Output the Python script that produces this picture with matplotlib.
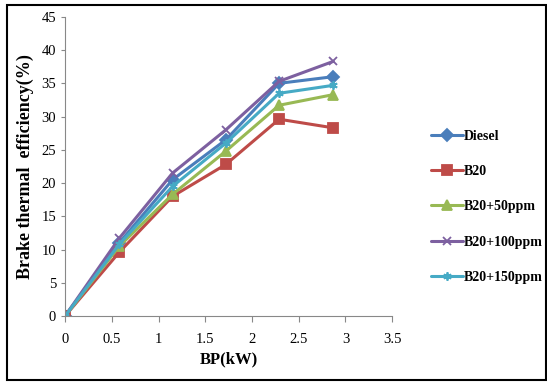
import matplotlib
matplotlib.use('Agg')
import matplotlib.pyplot as plt
from matplotlib.patches import Rectangle

# BP (kW) and brake thermal efficiency (%)
bp = [0, 0.58, 1.15, 1.72, 2.29, 2.87]
diesel = [0, 11.0, 20.5, 26.5, 35.0, 36.0]
b20 = [0, 9.6, 18.0, 22.8, 29.6, 28.3]
b20_50 = [0, 10.5, 18.3, 24.8, 31.7, 33.3]
b20_100 = [0, 11.7, 21.5, 28.0, 35.3, 38.3]
b20_150 = [0, 10.8, 19.5, 26.0, 33.5, 34.7]

labels = ['Diesel', 'B20', 'B20+50ppm', 'B20+100ppm', 'B20+150ppm']
colors = ['#4a7ebb', '#be4b48', '#98b954', '#7d60a0', '#46aac5']
markers = ['D', 's', '^', 'x', (6, 2, 0)]

plt.rcParams['font.family'] = ['Liberation Serif', 'DejaVu Serif']

fig = plt.figure(figsize=(5.47, 3.83), dpi=100)
ax = fig.add_axes([0.119, 0.175, 0.598, 0.781])

series = [diesel, b20, b20_50, b20_100, b20_150]
for ys, lab, c, m in zip(series, labels, colors, markers):
    ms = 7 if m in ('s', '^') else 6
    ax.plot(bp, ys, color=c, lw=2.2, marker=m, ms=ms, mew=1.3,
            label=lab, solid_capstyle='round')

ax.set_xlim(0, 3.5)
ax.set_ylim(0, 45)
ax.set_xticks([0, 0.5, 1, 1.5, 2, 2.5, 3, 3.5])
ax.set_xticklabels(['0', '0.5', '1', '1.5', '2', '2.5', '3', '3.5'])
ax.set_yticks(range(0, 50, 5))
for s in ['top', 'right']:
    ax.spines[s].set_visible(False)
for s in ['left', 'bottom']:
    ax.spines[s].set_color('#888888')
ax.tick_params(axis='both', labelsize=10.5, color='#888888', length=4,
               direction='out')
ax.tick_params(axis='x', pad=8)
ax.tick_params(axis='y', length=3)
ax.set_xlabel('BP(kW)', fontsize=12, fontweight='bold', labelpad=4)
ax.set_ylabel('Brake thermal  efficiency(%)', fontsize=13, fontweight='bold',
              labelpad=5)

leg = fig.legend(loc='center left', bbox_to_anchor=(0.765, 0.46), frameon=False,
                 prop={'size': 10, 'weight': 'bold'}, handlelength=2.3,
                 labelspacing=1.6, handletextpad=0.1)

fig.patches.append(Rectangle((0.013, 0.008), 0.985, 0.98, transform=fig.transFigure,
                             fill=False, ec='black', lw=1.5))

fig.savefig('out.png', dpi=100)
